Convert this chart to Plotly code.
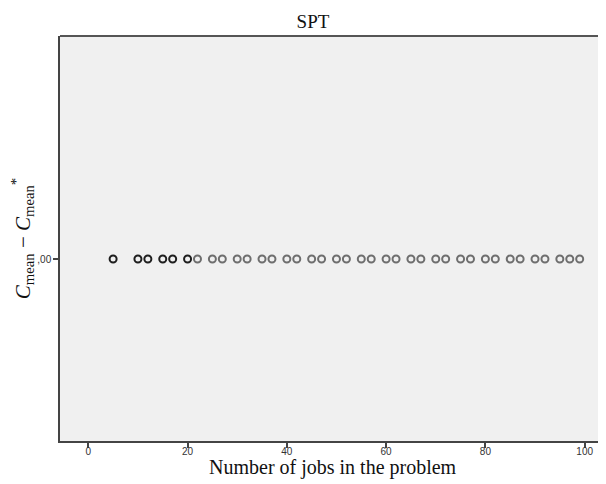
import plotly.graph_objects as go

# Data
jobs = [5, 10, 12, 15, 17, 20, 22, 25, 27, 30, 32, 35, 37, 40, 42, 45, 47, 50, 52,
        55, 57, 60, 62, 65, 67, 70, 72, 75, 77, 80, 82, 85, 87, 90, 92, 95, 97, 99]
diff = [0.0] * len(jobs)
# points drawn darker (overlapping observations)
overlap = [5, 10, 12, 15, 17, 20]

x_ticks = [0, 20, 40, 60, 80, 100]
y_ticks = [0]
y_tick_labels = [",00"]

colors = ["#1e1e1e" if j in overlap else "#6e6e6e" for j in jobs]

fig = go.Figure()
fig.add_trace(go.Scatter(
    x=jobs, y=diff, mode="markers",
    marker=dict(symbol="circle-open", size=7, color=colors,
                line=dict(width=2, color=colors)),
    showlegend=False, hoverinfo="x+y",
))

# page has an 8px body margin: figure is offset by 8px
fig.update_layout(
    width=598, height=476,
    margin=dict(l=52, r=0, t=28, b=43),
    paper_bgcolor="white",
    plot_bgcolor="#f0f0f0",
    title=dict(text="SPT", x=0.51, xanchor="center", y=1 - 13 / 476, yanchor="middle",
               font=dict(family="Liberation Serif, Times New Roman, serif", size=19, color="#111")),
    xaxis=dict(
        range=[-5.7, 104.3], tickvals=x_ticks, ticks="outside", ticklen=5, tickwidth=2,
        ticklabelstandoff=-5, automargin=False,
        tickcolor="#444", showgrid=False, zeroline=False, showline=True, linecolor="#444",
        linewidth=1.5, tickfont=dict(family="Liberation Sans, Arial, sans-serif", size=10, color="#333"),
    ),
    yaxis=dict(
        range=[-0.816, 1.0], tickvals=y_ticks, ticktext=y_tick_labels, ticks="outside", ticklen=5,
        tickwidth=2, tickcolor="#444", showgrid=False, zeroline=False, showline=True,
        linecolor="#444", linewidth=1.5, automargin=False,
        tickfont=dict(family="Liberation Sans, Arial, sans-serif", size=10, color="#333"),
        title=dict(text="<i>C</i><sub>mean</sub> − <i>C</i><sub>mean</sub><sup>*</sup>", standoff=18,
                   font=dict(family="Liberation Serif, Times New Roman, serif", size=21, color="#111")),
    ),
    annotations=[dict(text="Number of jobs in the problem", xref="paper", yref="paper",
                      x=0.5, y=0, xanchor="center", yanchor="middle", yshift=-26, showarrow=False,
                      font=dict(family="Liberation Serif, Times New Roman, serif", size=20, color="#111"))],
    shapes=[dict(type="line", xref="paper", yref="paper", x0=0, x1=1, y0=1, y1=1,
                 line=dict(color="#555", width=2))],
)

fig.write_html("out.html")
